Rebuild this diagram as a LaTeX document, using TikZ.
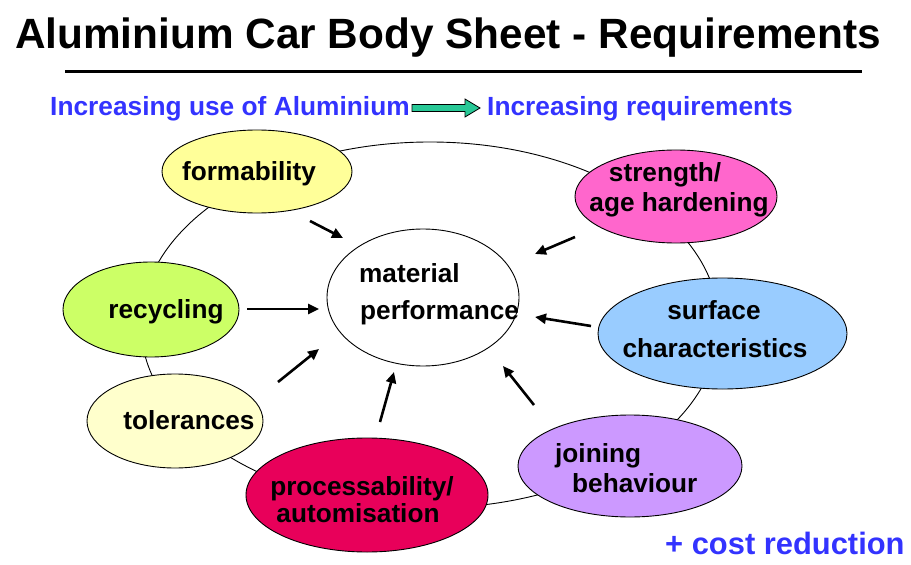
\documentclass[tikz,border=0pt]{standalone}
\usepackage{fontspec}
\setmainfont{Liberation Sans}
\usetikzlibrary{shapes.geometric,arrows.meta}
\definecolor{cform}{RGB}{255,255,153}
\definecolor{cstr}{RGB}{255,102,204}
\definecolor{crec}{RGB}{204,255,102}
\definecolor{ctol}{RGB}{255,255,204}
\definecolor{csurf}{RGB}{153,204,255}
\definecolor{cjoin}{RGB}{204,153,255}
\definecolor{cproc}{RGB}{232,0,90}
\definecolor{cblue}{RGB}{51,51,255}
\definecolor{cgreen}{RGB}{40,200,150}
\tikzset{
  blob/.style={ellipse, draw=black, line width=0.9bp, inner sep=0pt},
  lbl/.style={font=\bfseries\fontsize{26.3}{30}\selectfont, inner sep=0pt, anchor=base},
  lblw/.style={lbl, anchor=base west},
  arr/.style={line width=2.6bp, -{Triangle[length=11bp,width=10bp]}},
  bluetxt/.style={font=\bfseries\fontsize{26.4}{30}\selectfont, text=cblue, inner sep=0pt, anchor=base west}
}
\begin{document}
\begin{tikzpicture}[x=1bp,y=-1bp]
\useasboundingbox (0,0) rectangle (911,565);
% title
\node[font=\bfseries\fontsize{42.5}{48}\selectfont, inner sep=0pt, anchor=base] (title) at (448,49) {Aluminium Car Body Sheet - Requirements};
\coordinate (rl) at (65,72);
\coordinate (rr) at (862,72);
\draw[line width=3bp] (rl) -- (rr);
% subtitle
\node[bluetxt] (sub1) at (50,116) {Increasing use of Aluminium};
\node[bluetxt] (sub2) at (487,116) {Increasing requirements};
\draw[fill=cgreen, draw=black, line width=0.8bp]
  (412,104.5) -- (465,104.5) -- (465,99) -- (480,108) -- (465,117) -- (465,111.5) -- (412,111.5) -- cycle;
% ring
\node[ellipse, draw=black, line width=0.9bp, minimum width=578bp, minimum height=366bp] (ring) at (430,325) {};
% ellipses
\node[blob, fill=cform, minimum width=190bp, minimum height=83bp] (form) at (257,171.5) {};
\node[blob, fill=cstr, minimum width=202bp, minimum height=93bp] (str) at (676,196.5) {};
\node[blob, fill=crec, minimum width=176bp, minimum height=95bp] (rec) at (151,309.5) {};
\node[blob, fill=ctol, minimum width=176bp, minimum height=94bp] (tol) at (175,421) {};
\node[blob, fill=csurf, minimum width=249bp, minimum height=111bp] (surf) at (722.5,333.5) {};
\node[blob, fill=cjoin, minimum width=224bp, minimum height=102bp] (join) at (630,466) {};
\node[blob, fill=cproc, minimum width=242bp, minimum height=114bp] (proc) at (367,495) {};
\node[blob, fill=white, minimum width=192bp, minimum height=137bp] (mat) at (423,297.5) {};
% labels
\node[lbl] (tform) at (249,181) {formability};
\node[lbl] (tstra) at (665,182) {strength/};
\node[lbl] (tstrb) at (679,212) {age hardening};
\node[lbl] (trec) at (166,318) {recycling};
\node[lbl] (ttol) at (189,429) {tolerances};
\node[lbl] (tsurfa) at (714,319) {surface};
\node[lbl] (tsurfb) at (715,357) {characteristics};
\node[lblw] (tjoina) at (555,462) {joining};
\node[lblw] (tjoinb) at (572,492) {behaviour};
\node[lbl] (tproca) at (362,495) {processability/};
\node[lbl] (tprocb) at (358,522) {automisation};
\node[lblw] (tmata) at (359,282) {material};
\node[lblw] (tmatb) at (360,319) {performance};
% arrows
\coordinate (a1s) at (310,221); \coordinate (a1e) at (343,238);
\coordinate (a2s) at (575,237); \coordinate (a2e) at (535,254);
\coordinate (a3s) at (247,309); \coordinate (a3e) at (319,309);
\coordinate (a4s) at (278,382); \coordinate (a4e) at (319,349);
\coordinate (a5s) at (591,326); \coordinate (a5e) at (535,317);
\coordinate (a6s) at (534,405); \coordinate (a6e) at (503,366);
\coordinate (a7s) at (380,422); \coordinate (a7e) at (394,372);
\draw[arr] (a1s) -- (a1e);
\draw[arr] (a2s) -- (a2e);
\draw[arr] (a3s) -- (a3e);
\draw[arr] (a4s) -- (a4e);
\draw[arr] (a5s) -- (a5e);
\draw[arr] (a6s) -- (a6e);
\draw[arr] (a7s) -- (a7e);
% cost
\node[font=\bfseries\fontsize{31}{34}\selectfont, text=cblue, inner sep=0pt, anchor=base west] (cost) at (665,554) {+ cost reduction};
\end{tikzpicture}
\end{document}
